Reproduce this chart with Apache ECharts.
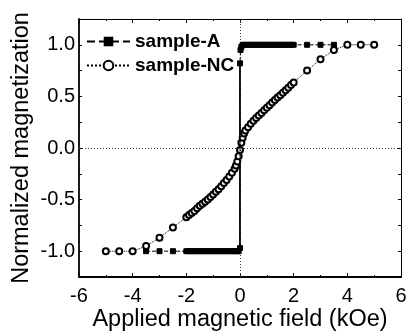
<!DOCTYPE html>
<html><head><meta charset="utf-8">
<script src="https://cdn.jsdelivr.net/npm/echarts@6/dist/echarts.min.js"></script>
<style>html,body{margin:0;padding:0;background:#fff}#c{width:407px;height:336px}</style>
</head><body><div id="c"></div>
<script>
// ---- data ----
const sampleA_x = [-3.5,-3,-2.5,-2,-1.9,-1.8,-1.7,-1.6,-1.5,-1.4,-1.3,-1.2,-1.1,-1.0,-0.9,-0.8,-0.7,-0.6,-0.5,-0.4,-0.3,-0.2,-0.1,-0.05,0,0,0.02,0.05,0.1,0.2,0.3,0.4,0.5,0.6,0.7,0.8,0.9,1.0,1.1,1.2,1.3,1.4,1.5,1.6,1.7,1.8,1.9,2.0,2.5,3,3.5];
const sampleA_y = [-1,-1,-1,-1,-1,-1,-1,-1,-1,-1,-1,-1,-1,-1,-1,-1,-1,-1,-1,-1,-1,-1,-1,-1,-0.97,0.82,0.95,0.98,1,1,1,1,1,1,1,1,1,1,1,1,1,1,1,1,1,1,1,1,1,1,1];
const switchA_x = [0, 0];
const switchA_y = [-0.97, 0.82];
const sampleNC_x = [-5,-4.5,-4,-3.5,-3,-2.5,-2.0,-1.9,-1.8,-1.7,-1.6,-1.5,-1.4,-1.3,-1.2,-1.1,-1.0,-0.9,-0.8,-0.7,-0.6,-0.5,-0.4,-0.3,-0.2,-0.15,-0.1,-0.05,0,0.05,0.1,0.15,0.2,0.3,0.4,0.5,0.6,0.7,0.8,0.9,1.0,1.1,1.2,1.3,1.4,1.5,1.6,1.7,1.8,1.9,2.0,2.5,3.0,3.5,4.0,4.5,5.0];
const sampleNC_y = [-1,-1,-1,-0.95,-0.87,-0.77,-0.67,-0.65,-0.63,-0.61,-0.585,-0.56,-0.54,-0.52,-0.50,-0.475,-0.45,-0.425,-0.40,-0.37,-0.34,-0.31,-0.275,-0.24,-0.20,-0.17,-0.13,-0.08,-0.02,0.05,0.10,0.14,0.17,0.20,0.235,0.265,0.29,0.315,0.34,0.365,0.39,0.415,0.44,0.465,0.49,0.51,0.535,0.56,0.585,0.61,0.635,0.75,0.86,0.95,1.0,1.0,1.0];
const yTickLabels = [-1, -0.5, 0, 0.5, 1];
const seriesNames = ['sample-A', 'sample-NC'];
const xTitle = 'Applied magnetic field (kOe)';
const yTitle = 'Normalized magnetization';

const zip = (xs, ys) => xs.map((x, i) => [x, ys[i]]);
const FONT = 'Liberation Sans, Arial, Helvetica, sans-serif';
const K = '#000';

const chart = echarts.init(document.getElementById('c'), null, {renderer: 'canvas'});
chart.setOption({
  animation: false,
  backgroundColor: '#fff',
  grid: {left: 79, right: 6, top: 19, bottom: 59, containLabel: false, outerBoundsMode: 'none'},
  legend: {
    data: seriesNames, orient: 'vertical', left: 81, top: 27,
    itemWidth: 43, itemHeight: 12, itemGap: 5,
    textStyle: {fontFamily: FONT, fontSize: 19, fontWeight: 'bold', color: K}
  },
  xAxis: [
    {type: 'value', position: 'bottom', min: -6, max: 6, interval: 2,
     name: xTitle, nameLocation: 'middle', nameGap: 31, nameMoveOverlap: false,
     nameTextStyle: {fontFamily: FONT, fontSize: 23.5, color: K},
     axisLine: {onZero: false, lineStyle: {color: K, width: 1.8}},
     axisTick: {inside: true, length: 4, lineStyle: {color: K}},
     minorTick: {show: true, splitNumber: 2, length: 2, lineStyle: {color: K}},
     axisLabel: {fontFamily: FONT, fontSize: 20, color: K, margin: 9},
     splitLine: {show: false}},
    {type: 'value', position: 'top', min: -6, max: 6, interval: 2,
     axisLine: {onZero: false, lineStyle: {color: K, width: 1}},
     axisTick: {inside: true, length: 4, lineStyle: {color: K}},
     minorTick: {show: true, splitNumber: 2, length: 2, lineStyle: {color: K}},
     axisLabel: {show: false}, splitLine: {show: false}}
  ],
  yAxis: [
    {type: 'value', position: 'left', min: -1.25, max: 1.25, interval: 0.25,
     name: yTitle, nameLocation: 'middle', nameGap: 45, nameMoveOverlap: false,
     nameTextStyle: {fontFamily: FONT, fontSize: 23.5, color: K},
     axisLine: {onZero: false, lineStyle: {color: K, width: 1.8}},
     axisTick: {inside: true, length: 3, lineStyle: {color: K}},
     axisLabel: {fontFamily: FONT, fontSize: 20, color: K, margin: 4, customValues: yTickLabels,
       formatter: v => v.toFixed(1)},
     splitLine: {show: false}},
    {type: 'value', position: 'right', min: -1.25, max: 1.25, interval: 0.25,
     axisLine: {onZero: false, lineStyle: {color: K, width: 1}},
     axisTick: {inside: true, length: 3, lineStyle: {color: K}},
     axisLabel: {show: false}, splitLine: {show: false}}
  ],
  series: [
    {name: 'zero-lines', type: 'line', data: [], silent: true,
     markLine: {silent: true, symbol: 'none', label: {show: false},
       lineStyle: {color: '#444', type: [1, 2], width: 1},
       data: [{yAxis: 0}, {xAxis: 0}]}},
    {name: 'sample-A-switch', type: 'line', data: zip(switchA_x, switchA_y),
     showSymbol: false, lineStyle: {color: K, width: 1.8, type: 'solid'}, z: 3},
    {name: seriesNames[1], type: 'line', data: zip(sampleNC_x, sampleNC_y),
     symbol: 'emptyCircle', symbolSize: 6,
     itemStyle: {color: K, borderColor: K, borderWidth: 1},
     lineStyle: {color: K, width: 1, type: 'dotted'}, z: 4},
    {name: seriesNames[0], type: 'line', data: zip(sampleA_x, sampleA_y),
     symbol: 'rect', symbolSize: 5,
     itemStyle: {color: K, borderColor: K},
     lineStyle: {color: K, width: 1, type: 'dashed'}, z: 5}
  ]
});
</script></body></html>
